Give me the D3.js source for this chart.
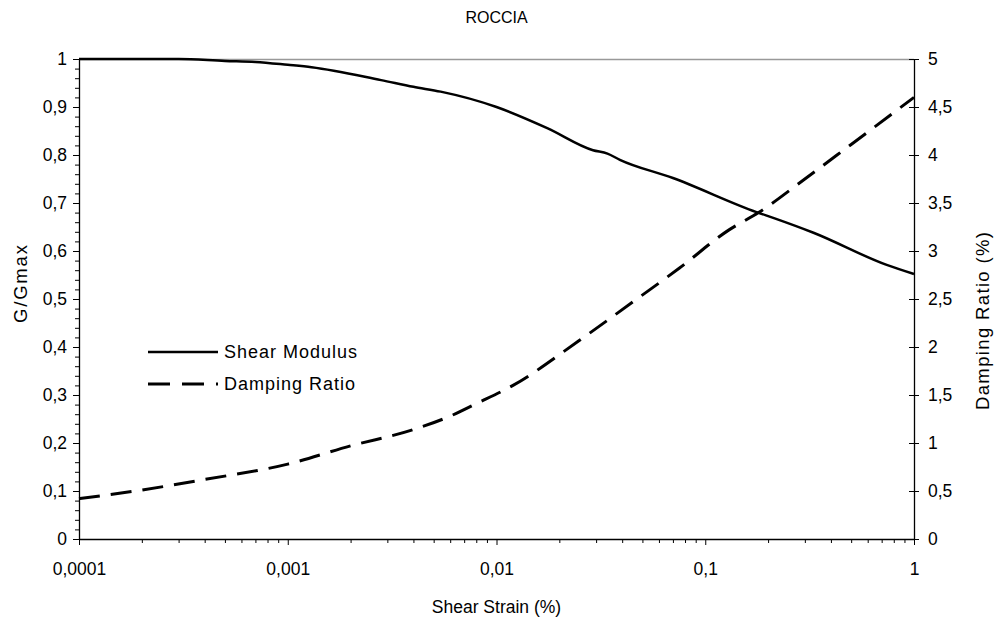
<!DOCTYPE html>
<html>
<head>
<meta charset="utf-8">
<script src="https://cdn.jsdelivr.net/npm/d3@7"></script>
<style>
  body { margin: 0; background: #fff; }
  text { font-family: "Liberation Sans", Arial, sans-serif; fill: #000; }
</style>
</head>
<body>
<script>
// chart data
const title = 'ROCCIA';

const shearStrain  = [0.0001, 0.0003, 0.0005, 0.0007, 0.001, 0.0013, 0.0028, 0.004, 0.0054, 0.01, 0.0175, 0.029, 0.034, 0.039, 0.07, 0.176, 0.215, 0.33, 0.74, 1];
const shearModulus = [1.0, 1.0, 0.996, 0.994, 0.988, 0.983, 0.956, 0.942, 0.932, 0.90, 0.856, 0.81, 0.803, 0.79, 0.752, 0.681, 0.668, 0.638, 0.571, 0.552];

const dampStrain   = [0.0001, 0.0002, 0.0004, 0.001, 0.002, 0.004, 0.006, 0.008, 0.012, 0.025, 0.045, 0.075, 0.13, 0.18, 0.3, 0.5, 1];
const dampingRatio = [0.42, 0.51, 0.62, 0.78, 0.97, 1.14, 1.28, 1.41, 1.60, 2.07, 2.47, 2.82, 3.22, 3.40, 3.75, 4.11, 4.6];

const xTicks      = [0.0001, 0.001, 0.01, 0.1, 1];
const yLeftTicks  = d3.range(0, 11).map((i) => i / 10);
const yRightTicks = d3.range(0, 11).map((i) => i / 2);

const legendLabels = ['Shear Modulus', 'Damping Ratio'];

const width  = 998;
const height = 619;
const margin = { top: 59, right: 84, bottom: 80, left: 79 };

const locale = d3.formatLocale({ decimal: ',', thousands: '.', grouping: [3], currency: ['', ''] });
const fmt = locale.format('.1~f');

// create svg
const svg = d3.select('body')
  .append('svg')
    .attr('width',  width)
    .attr('height', height);

const x = d3.scaleLog()
  .domain([0.0001, 1])
  .range([margin.left, width - margin.right]);

const yLeft = d3.scaleLinear()
  .domain([0, 1])
  .range([height - margin.bottom, margin.top]);

const yRight = d3.scaleLinear()
  .domain([0, 5])
  .range([height - margin.bottom, margin.top]);

// top border
svg.append('line')
  .attr('x1', margin.left).attr('x2', width - margin.right)
  .attr('y1', margin.top + 0.5).attr('y2', margin.top + 0.5)
  .attr('stroke', '#999').attr('stroke-width', 1.5);

// x axis minor ticks
const xMinor = d3.range(-4, 0).flatMap((e) => d3.range(2, 10).map((m) => m * Math.pow(10, e)));
svg.append('g')
  .attr('transform', `translate(0,${height - margin.bottom})`)
  .call(d3.axisBottom(x).tickValues(xMinor).tickSize(4).tickFormat(''))
  .call((g) => g.select('.domain').remove());

// x axis
svg.append('g')
  .attr('transform', `translate(0,${height - margin.bottom})`)
  .call(d3.axisBottom(x).tickValues(xTicks).tickSize(6).tickSizeOuter(0).tickPadding(18)
    .tickFormat((d) => String(d).replace('.', ',')))
  .call((g) => g.selectAll('text').attr('font-size', 17.5))
  .call((g) => g.select('.domain').attr('stroke-width', 1.3));

// left axis minor ticks
svg.append('g')
  .attr('transform', `translate(${margin.left},0)`)
  .call(d3.axisLeft(yLeft).tickValues(d3.range(0, 51).map((i) => i / 50)).tickSize(4).tickFormat(''))
  .call((g) => g.select('.domain').remove());

// left axis
svg.append('g')
  .attr('transform', `translate(${margin.left},0)`)
  .call(d3.axisLeft(yLeft).tickValues(yLeftTicks).tickSize(6).tickSizeOuter(0).tickPadding(6).tickFormat(fmt))
  .call((g) => g.selectAll('text').attr('font-size', 17.5))
  .call((g) => g.select('.domain').attr('stroke-width', 1.3));

// right axis
svg.append('g')
  .attr('transform', `translate(${width - margin.right},0)`)
  .call(d3.axisRight(yRight).tickValues(yRightTicks).tickSize(5).tickSizeOuter(0).tickPadding(9).tickFormat(fmt))
  .call((g) => g.selectAll('text').attr('font-size', 17.5))
  .call((g) => g.select('.domain').attr('stroke-width', 1.3))
  .call((g) => g.selectAll('.tick line').attr('x1', -5));

// curves
const lineLeft = d3.line()
  .x((d) => x(d[0]))
  .y((d) => yLeft(d[1]))
  .curve(d3.curveMonotoneX);

const lineRight = d3.line()
  .x((d) => x(d[0]))
  .y((d) => yRight(d[1]))
  .curve(d3.curveMonotoneX);

svg.append('path')
  .datum(d3.zip(shearStrain, shearModulus))
  .attr('d', lineLeft)
  .attr('fill', 'none')
  .attr('stroke', '#000')
  .attr('stroke-width', 2.5);

svg.append('path')
  .datum(d3.zip(dampStrain, dampingRatio))
  .attr('d', lineRight)
  .attr('fill', 'none')
  .attr('stroke', '#000')
  .attr('stroke-width', 3)
  .attr('stroke-dasharray', '21,11');

// legend
const legend = svg.append('g').attr('transform', 'translate(148,352)');
legendLabels.forEach((label, i) => {
  legend.append('line')
    .attr('x1', 0).attr('x2', 70)
    .attr('y1', i * 32).attr('y2', i * 32)
    .attr('stroke', '#000')
    .attr('stroke-width', i ? 3 : 2.5)
    .attr('stroke-dasharray', i ? '22,12' : null);
  legend.append('text')
    .attr('x', 76).attr('y', i * 32 + 6)
    .attr('font-size', 18)
    .attr('letter-spacing', 1)
    .text(label);
});

// titles
svg.append('text')
  .attr('x', (margin.left + width - margin.right) / 2).attr('y', 23)
  .attr('text-anchor', 'middle').attr('font-size', 16)
  .text(title);

svg.append('text')
  .attr('x', (margin.left + width - margin.right) / 2).attr('y', 613)
  .attr('text-anchor', 'middle').attr('font-size', 17.5)
  .text('Shear Strain (%)');

svg.append('text')
  .attr('transform', 'translate(27,284) rotate(-90)')
  .attr('text-anchor', 'middle').attr('font-size', 18.5)
  .attr('textLength', 78).attr('lengthAdjust', 'spacing')
  .text('G/Gmax');

svg.append('text')
  .attr('transform', 'translate(989,321) rotate(-90)')
  .attr('text-anchor', 'middle').attr('font-size', 18.5)
  .attr('textLength', 178).attr('lengthAdjust', 'spacing')
  .text('Damping Ratio (%)');
</script>
</body>
</html>
